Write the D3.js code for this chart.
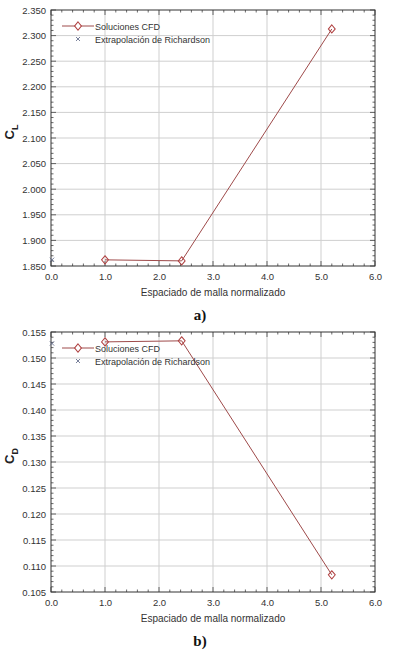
<!DOCTYPE html>
<html>
<head>
<meta charset="utf-8">
<script src="https://cdn.jsdelivr.net/npm/d3@7"></script>
<style>
  body { margin: 0; background: #fff; }
  svg { display: block; }
</style>
</head>
<body>
<div id="chart"></div>
<script>
// grid spacing (normalised) for the three CFD meshes
const spacing = [1.0, 2.42, 5.2];
const clValues = [1.862, 1.860, 2.313];
const cdValues = [0.1531, 0.1533, 0.1083];
// Richardson extrapolated value sits at zero spacing
const richX = [0.0];
const clRich = [1.862];
const cdRich = [0.1528];

const xTicks = [0, 1, 2, 3, 4, 5, 6];
const clTicks = [1.85, 1.9, 1.95, 2.0, 2.05, 2.1, 2.15, 2.2, 2.25, 2.3, 2.35];
const cdTicks = [0.105, 0.11, 0.115, 0.12, 0.125, 0.13, 0.135, 0.14, 0.145, 0.15, 0.155];
const legendLabels = ["Soluciones CFD", "Extrapolación de Richardson"];
const xTitle = "Espaciado de malla normalizado";

const width = 397, height = 650;
const svg = d3.select("#chart").append("svg")
    .attr("width", width)
    .attr("height", height);

const lineColor = "#9e4a4a";
const gridColor = "#cfcfcf";
const font = "Arial, 'Liberation Sans', sans-serif";
const diamond = d3.symbol(d3.symbolDiamond, 24);
const diamondScale = "scale(1.3,0.9)";

// one panel: top/bottom are the pixel rows of the frame
function panel(top, bottom, yTicks, yVals, richVals, ySub, tag) {
    const x = d3.scaleLinear().domain([0, 6]).range([51, 375]);
    const y = d3.scaleLinear().domain([yTicks[0], yTicks[yTicks.length - 1]]).range([bottom, top]);
    const g = svg.append("g");
    const yStep = yTicks[1] - yTicks[0];

    // gridlines
    g.append("g").selectAll("line").data(xTicks.slice(1, -1)).enter().append("line")
        .attr("x1", d => x(d)).attr("x2", d => x(d))
        .attr("y1", top).attr("y2", bottom)
        .attr("stroke", gridColor).attr("stroke-width", 1);
    g.append("g").selectAll("line").data(yTicks.slice(1, -1)).enter().append("line")
        .attr("x1", 51).attr("x2", 375)
        .attr("y1", d => y(d)).attr("y2", d => y(d))
        .attr("stroke", gridColor).attr("stroke-width", 1);

    // minor ticks (5 per interval) pointing inwards on all sides
    const xMinor = d3.range(0, 6.0001, 0.2);
    const yMinor = d3.range(0, 10 * 5 + 1).map(i => yTicks[0] + i * yStep / 5);
    const tk = g.append("g").attr("stroke", "#444").attr("stroke-width", 0.8);
    xMinor.forEach((v, i) => {
        const len = i % 5 === 0 ? 5 : 2.5;
        tk.append("line").attr("x1", x(v)).attr("x2", x(v)).attr("y1", bottom).attr("y2", bottom - len);
        tk.append("line").attr("x1", x(v)).attr("x2", x(v)).attr("y1", top).attr("y2", top + len);
    });
    yMinor.forEach((v, i) => {
        const len = i % 5 === 0 ? 5 : 2.5;
        tk.append("line").attr("x1", 51).attr("x2", 51 + len).attr("y1", y(v)).attr("y2", y(v));
        tk.append("line").attr("x1", 375).attr("x2", 375 - len).attr("y1", y(v)).attr("y2", y(v));
    });

    // frame
    g.append("rect").attr("x", 51).attr("y", top)
        .attr("width", 324).attr("height", bottom - top)
        .attr("fill", "none").attr("stroke", "#333").attr("stroke-width", 1);

    // axes labels through d3 axes, lines hidden
    const xAxis = g.append("g").attr("transform", `translate(0,${bottom})`)
        .call(d3.axisBottom(x).tickValues(xTicks).tickFormat(d3.format(".1f")).tickSize(0).tickPadding(7));
    const yAxis = g.append("g").attr("transform", "translate(51,0)")
        .call(d3.axisLeft(y).tickValues(yTicks).tickFormat(d3.format(".3f")).tickSize(0).tickPadding(5));
    [xAxis, yAxis].forEach(a => {
        a.select(".domain").remove();
        a.selectAll("text").attr("fill", "#333").style("font-size", "9.5px").style("font-family", font);
    });

    // series line and markers
    const pts = spacing.map((s, i) => [s, yVals[i]]);
    g.append("path").datum(pts)
        .attr("d", d3.line().x(d => x(d[0])).y(d => y(d[1])))
        .attr("fill", "none").attr("stroke", lineColor).attr("stroke-width", 1);
    g.append("g").selectAll("path").data(pts).enter().append("path")
        .attr("d", diamond)
        .attr("transform", d => `translate(${x(d[0])},${y(d[1])}) ${diamondScale}`)
        .attr("fill", "none").attr("stroke", "#b04040").attr("stroke-width", 0.9);

    // Richardson marker
    g.append("g").selectAll("path").data(richX.map((s, i) => [s, richVals[i]])).enter().append("path")
        .attr("d", d3.symbol(d3.symbolX, 14))
        .attr("transform", d => `translate(${x(d[0]) + 1},${y(d[1])})`)
        .attr("fill", "none").attr("stroke", "#556080").attr("stroke-width", 0.8);

    // legend
    const lg = g.append("g").attr("transform", `translate(62,${top + 16})`);
    lg.append("line").attr("x1", 0).attr("x2", 32).attr("y1", 0).attr("y2", 0)
        .attr("stroke", lineColor).attr("stroke-width", 1);
    lg.append("path").attr("d", diamond)
        .attr("transform", `translate(16,0) ${diamondScale}`)
        .attr("fill", "#fff").attr("stroke", "#b04040").attr("stroke-width", 0.9);
    lg.append("path").attr("d", d3.symbol(d3.symbolX, 12))
        .attr("transform", "translate(16,13)")
        .attr("fill", "none").attr("stroke", "#556080").attr("stroke-width", 0.8);
    lg.selectAll("text").data(legendLabels).enter().append("text")
        .attr("x", 33).attr("y", (d, i) => i * 13 + 3.5)
        .attr("fill", "#333").style("font-size", "9px").style("font-family", font)
        .text(d => d);

    // axis titles
    g.append("text").attr("x", 213).attr("y", bottom + 30)
        .attr("text-anchor", "middle").attr("fill", "#333")
        .style("font-size", "10px").style("font-family", font).text(xTitle);
    const yt = g.append("text")
        .attr("transform", `translate(14,${(top + bottom) / 2 - 6}) rotate(-90)`)
        .attr("text-anchor", "middle").attr("fill", "#222")
        .style("font-size", "13px").style("font-weight", "bold").style("font-family", font);
    yt.append("tspan").text("C");
    yt.append("tspan").attr("dy", 4).style("font-size", "9px").text(ySub);

    // panel tag
    g.append("text").attr("x", 200).attr("y", bottom + 54)
        .attr("text-anchor", "middle").attr("fill", "#111")
        .style("font-size", "15px").style("font-weight", "bold")
        .style("font-family", "'Liberation Serif', 'DejaVu Serif', serif").text(tag);
}

panel(10, 266, clTicks, clValues, clRich, "L", "a)");
panel(332, 592, cdTicks, cdValues, cdRich, "D", "b)");
</script>
</body>
</html>
